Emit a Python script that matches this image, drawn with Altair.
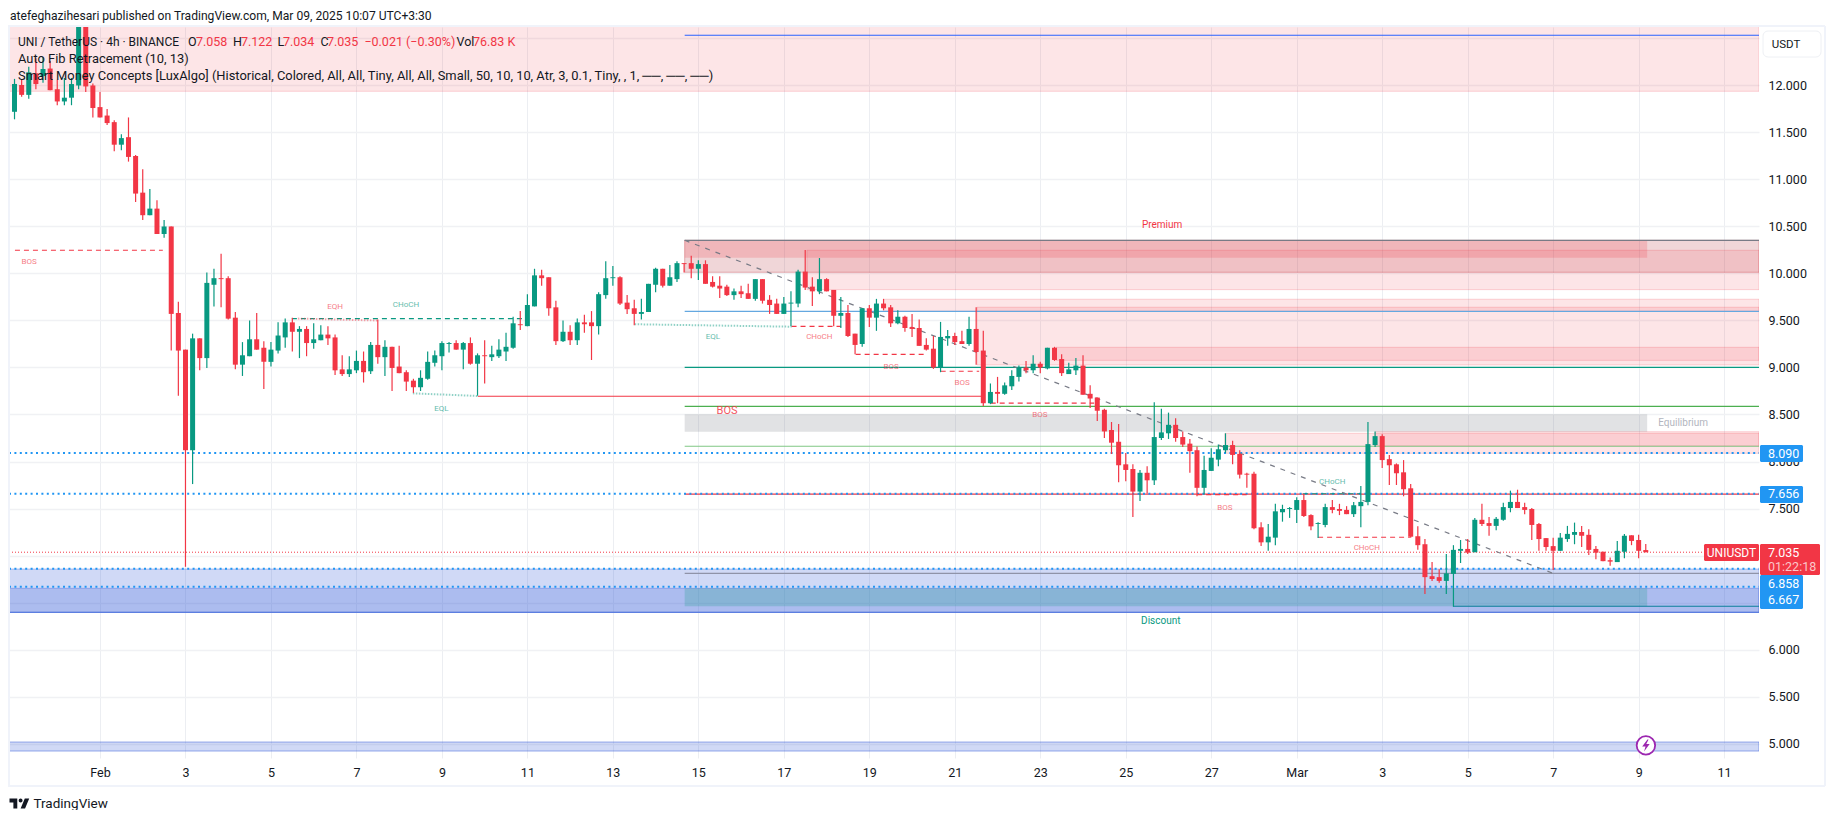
import json
import altair as alt
import pandas as pd

# ---- candle data (4h bars), prices ----
directions = ("GRGRGRRGGG" "RRRRRGRRRG" "RGRRRGRGGR" "RRGGRRGGGR"
              "GRGGRRRGGR" "GRGRRRRGGG" "GGRGRGRGGG" "GRGGRRRGRG"
              "RRGGGRRRGG" "GRGGRRGRRR" "RGRRGRRRGG" "GRRGRRGRRG"
              "RGRRGRRRRR" "GGRRGRRGRG" "GGRGRGRRGG" "RRRRRRRRGR"
              "GGGRRRRGGG" "GRRRRRGGGG" "GRRGGRRRGG" "GGRRRRRRRR"
              "RGGGRGRRGG" "GRRRRRRGGG" "RRRRRGGRRR")
tops = [
    12.016,12.005,12.14,12.13,12.175,12.18,11.96,11.87,12.015,12.85,
    12.85,12.0,11.77,11.68,11.61,11.44,11.45,11.25,10.86,10.69,
    10.69,10.50,10.50,9.58,9.19,9.31,9.31,9.90,9.95,9.95,
    9.95,9.53,9.13,9.30,9.30,9.21,9.19,9.34,9.48,9.48,
    9.41,9.41,9.30,9.35,9.35,9.32,8.98,8.98,9.07,9.07,
    9.24,9.24,9.22,9.22,9.01,8.95,8.86,8.89,9.06,9.13,
    9.26,9.26,9.26,9.26,9.26,9.13,9.13,9.14,9.19,9.22,
    9.47,9.46,9.665,9.98,9.98,9.96,9.64,9.38,9.38,9.48,
    9.48,9.48,9.78,9.95,9.96,9.96,9.69,9.63,9.59,9.89,
    10.05,10.05,9.96,10.11,10.11,10.11,10.10,10.10,9.91,9.87,
    9.86,9.81,9.81,9.79,9.94,9.94,9.72,9.68,9.68,9.69,
    10.02,10.02,9.86,9.94,9.94,9.825,9.58,9.58,9.36,9.63,
    9.63,9.68,9.68,9.64,9.54,9.54,9.43,9.42,9.24,9.20,
    9.325,9.335,9.335,9.28,9.41,9.41,9.18,8.74,8.74,8.81,
    8.91,9.0,9.0,9.04,9.04,9.21,9.21,9.09,8.98,9.02,
    9.02,8.72,8.68,8.55,8.335,8.21,7.97,7.92,7.88,7.88,
    8.26,8.31,8.39,8.39,8.26,8.19,8.12,7.91,8.04,8.13,
    8.175,8.175,8.08,7.87,7.87,7.30,7.20,7.47,7.495,7.505,
    7.59,7.59,7.43,7.345,7.515,7.515,7.495,7.485,7.535,7.57,
    8.185,8.27,8.27,8.025,7.97,7.885,7.715,7.205,7.12,6.78,
    6.77,6.81,7.06,7.07,7.07,7.38,7.38,7.345,7.39,7.515,
    7.57,7.57,7.515,7.495,7.335,7.185,7.10,7.19,7.23,7.25,
    7.25,7.22,7.07,7.04,6.95,7.05,7.21,7.215,7.165,7.058,
]
bottoms = [
    11.72,11.90,11.90,12.015,12.10,11.95,11.83,11.83,11.87,12.0,
    11.99,11.76,11.66,11.60,11.37,11.37,11.24,10.85,10.62,10.62,
    10.42,10.42,9.57,9.18,8.12,8.12,9.10,9.10,9.88,9.94,
    9.52,9.03,9.03,9.12,9.19,9.06,9.06,9.18,9.32,9.38,
    9.38,9.26,9.26,9.29,9.31,8.97,8.93,8.93,8.97,8.95,
    8.96,9.11,9.11,8.995,8.94,8.85,8.79,8.79,8.88,9.05,
    9.12,9.25,9.19,9.19,9.04,9.04,9.12,9.11,9.12,9.17,
    9.21,9.45,9.44,9.65,9.95,9.63,9.28,9.28,9.29,9.29,
    9.46,9.44,9.44,9.77,9.95,9.68,9.62,9.57,9.57,9.59,
    9.88,9.87,9.87,9.94,10.10,10.05,10.05,9.89,9.86,9.84,
    9.77,9.77,9.78,9.73,9.73,9.71,9.665,9.57,9.57,9.68,
    9.68,9.85,9.81,9.81,9.81,9.55,9.55,9.335,9.24,9.25,
    9.53,9.53,9.63,9.47,9.47,9.42,9.41,9.23,9.19,9.0,
    9.0,9.31,9.27,9.25,9.25,9.165,8.62,8.62,8.72,8.72,
    8.80,8.90,8.97,8.97,9.0,8.99,9.08,8.94,8.93,8.97,
    8.71,8.67,8.54,8.32,8.20,7.96,7.91,7.68,7.68,7.80,
    7.80,8.25,8.30,8.25,8.18,8.11,7.72,7.72,7.90,8.02,
    8.12,8.07,7.86,7.86,7.29,7.14,7.14,7.19,7.46,7.495,
    7.485,7.42,7.31,7.335,7.325,7.485,7.475,7.44,7.44,7.525,
    7.57,8.175,8.015,7.96,7.875,7.705,7.20,7.11,6.77,6.75,
    6.73,6.73,6.805,7.05,7.03,7.035,7.335,7.315,7.315,7.38,
    7.505,7.505,7.485,7.325,7.175,7.09,7.05,7.05,7.175,7.22,
    7.21,7.06,7.03,6.94,6.935,6.93,7.04,7.155,7.05,7.035,
]
highs = [
    12.07,12.06,12.20,12.29,12.30,12.26,12.06,12.08,12.08,12.95,
    13.0,12.02,11.93,11.75,11.63,11.48,11.66,11.26,11.11,10.90,
    10.78,10.57,10.50,9.70,9.19,9.36,9.31,10.01,10.05,10.21,
    9.97,9.59,9.27,9.50,9.58,9.28,9.27,9.48,9.52,9.53,
    9.44,9.44,9.47,9.45,9.44,9.35,9.13,9.12,9.18,9.17,
    9.27,9.51,9.29,9.22,9.23,8.97,8.88,8.97,9.17,9.18,
    9.28,9.27,9.29,9.27,9.32,9.15,9.29,9.23,9.30,9.37,
    9.54,9.60,9.78,10.05,10.04,9.96,9.71,9.50,9.45,9.52,
    9.56,9.60,9.80,10.13,10.08,9.97,9.77,9.72,9.73,9.89,
    10.06,10.05,10.09,10.13,10.11,10.19,10.14,10.14,9.97,9.97,
    9.88,9.84,9.87,9.89,9.94,9.94,9.77,9.73,9.75,9.81,
    10.04,10.25,9.96,10.165,9.95,9.825,9.75,9.665,9.36,9.63,
    9.665,9.73,9.73,9.665,9.61,9.55,9.57,9.51,9.31,9.335,
    9.485,9.40,9.37,9.39,9.54,9.64,9.39,8.83,8.90,8.84,
    8.97,9.02,9.07,9.13,9.06,9.21,9.22,9.14,9.05,9.10,
    9.13,8.81,8.68,8.56,8.42,8.40,8.09,7.97,7.91,7.95,
    8.63,8.56,8.52,8.46,8.32,8.24,8.16,8.06,8.14,8.18,
    8.30,8.22,8.12,7.88,7.89,7.355,7.335,7.55,7.54,7.515,
    7.62,7.655,7.44,7.355,7.55,7.59,7.55,7.525,7.57,7.74,
    8.42,8.32,8.29,8.07,7.98,8.015,7.76,7.31,7.175,6.93,
    6.855,7.015,7.11,7.165,7.175,7.40,7.55,7.41,7.41,7.56,
    7.69,7.70,7.56,7.505,7.345,7.185,7.19,7.24,7.315,7.35,
    7.315,7.28,7.10,7.04,6.98,7.155,7.23,7.215,7.22,7.122,
]
lows = [
    11.64,11.88,11.86,11.96,12.03,11.95,11.79,11.79,11.79,11.96,
    11.93,11.66,11.66,11.58,11.30,11.31,11.19,10.76,10.57,10.62,
    10.42,10.38,9.18,8.70,6.88,7.76,8.97,8.995,9.65,9.64,
    9.51,8.98,8.91,9.12,9.19,8.77,9.01,9.15,9.21,9.17,
    9.10,9.12,9.20,9.29,9.24,8.92,8.91,8.90,8.94,8.84,
    8.93,9.04,8.91,8.75,8.94,8.75,8.73,8.75,8.87,9.01,
    8.97,9.16,9.19,8.98,9.03,8.70,8.83,9.07,9.10,9.07,
    9.20,9.40,9.44,9.65,9.87,9.55,9.24,9.27,9.24,9.24,
    9.37,9.08,9.35,9.73,9.87,9.665,9.57,9.45,9.51,9.59,
    9.80,9.85,9.87,9.91,10.01,9.95,9.93,9.89,9.85,9.74,
    9.76,9.72,9.74,9.73,9.71,9.68,9.57,9.57,9.57,9.44,
    9.64,9.825,9.655,9.78,9.81,9.44,9.42,9.325,9.14,9.22,
    9.43,9.39,9.61,9.43,9.46,9.38,9.325,9.23,9.18,8.985,
    8.95,9.23,9.24,9.25,9.23,9.03,8.59,8.61,8.62,8.71,
    8.76,8.85,8.94,8.94,8.94,8.98,9.07,8.91,8.93,8.92,
    8.71,8.57,8.43,8.25,8.08,7.78,7.79,7.41,7.58,7.66,
    7.75,8.23,8.24,8.21,8.155,7.88,7.63,7.65,7.90,7.95,
    8.09,7.97,7.82,7.72,7.28,7.10,7.05,7.11,7.36,7.40,
    7.345,7.41,7.27,7.185,7.30,7.45,7.43,7.44,7.41,7.30,
    7.535,8.155,7.93,7.75,7.75,7.63,7.19,7.06,6.59,6.73,
    6.71,6.59,6.455,6.92,7.015,7.035,7.315,7.21,7.27,7.37,
    7.46,7.505,7.44,7.165,7.05,7.05,6.845,7.05,7.145,7.12,
    7.09,7.005,6.96,6.94,6.89,6.93,6.97,7.11,6.97,7.034,
]

# ---- axis contents ----
x_days = list(range(0, 39, 2))
x_labels = ["Feb","3","5","7","9","11","13","15","17","19","21","23","25","27",
            "Mar","3","5","7","9","11"]
y_ticks = [5 + 0.5 * k for k in range(16)]

X_MIN, X_MAX = -2.129, 38.816
Y_MIN, Y_MAX = 4.846, 12.622
FIB_START = 13.68
BOX_END = 36.2

# ---- zones: day from, day to, price from, price to ----
pink_zones = [
    (X_MIN, X_MAX, 11.938, 12.8),
    (16.54, X_MAX, 9.828, 10.247),
    (18.33, X_MAX, 9.598, 9.726),
    (20.52, X_MAX, 9.027, 9.641),
    (22.37, X_MAX, 9.076, 9.215),
    (26.32, X_MAX, 8.087, 8.30),
    (29.84, X_MAX, 8.165, 8.317),
]
order_zone = [(FIB_START, X_MAX, 10.013, 10.353)]
premium = [(FIB_START, BOX_END, 10.168, 10.353)]
equilibrium = [(FIB_START, BOX_END, 8.317, 8.502)]
discount = [(FIB_START, BOX_END, 6.46, 6.651)]
blue_zones = [
    (X_MIN, X_MAX, 6.395, 6.856),
    (X_MIN, X_MAX, 6.395, 6.651),
    (X_MIN, X_MAX, 4.92, 5.016),
]

# ---- horizontal lines: day from, day to, price, colour ----
fib_lines = [
    (FIB_START, X_MAX, 12.534, "#2962ff", 1.2),
    (FIB_START, X_MAX, 10.353, "#787b86", 1.2),
    (FIB_START, X_MAX, 9.598, "#64a8e0", 1.2),
    (FIB_START, X_MAX, 9.002, "#089981", 1.2),
    (FIB_START, X_MAX, 8.587, "#4caf50", 1.2),
    (FIB_START, X_MAX, 8.162, "#81c784", 1.2),
    (FIB_START, X_MAX, 7.654, "#f23645", 1.2),
    (FIB_START, X_MAX, 6.811, "#8f93a8", 1.2),
    (31.66, X_MAX, 6.46, "#0b7f9a", 1.2),
    (X_MIN, X_MAX, 6.395, "#5c7ee0", 1.2),
    (8.84, 20.66, 8.694, "#f23645", 1.1),
]
dotted_levels = [8.09, 7.656, 6.858, 6.667]
last_close = 7.035
red_dashes = [
    (-1.99, 1.47, 10.247), (16.18, 17.34, 9.438), (17.68, 19.34, 9.14),
    (19.67, 20.57, 8.96), (20.84, 23.26, 8.62), (25.67, 26.83, 7.647),
    (28.50, 30.65, 7.194),
]
green_dashes = [(4.49, 9.97, 9.52), (28.15, 29.48, 7.657)]
eq_red = [(4.63, 6.50, 9.52, 9.50)]
eq_green = [(7.32, 8.84, 8.725, 8.697), (12.51, 16.18, 9.46, 9.434)]
fib_diagonal = [(13.68, 34.0, 10.353, 6.81)]

# ---- small labels: text, day, price ----
red_labels = [
    ("BOS", -1.66, 10.12), ("EQH", 5.50, 9.64), ("CHoCH", 16.83, 9.32),
    ("BOS", 18.51, 9.01), ("BOS", 20.17, 8.84), ("BOS", 21.99, 8.49),
    ("BOS", 26.32, 7.51), ("CHoCH", 29.64, 7.076),
]
green_labels = [
    ("CHoCH", 7.16, 9.66), ("EQL", 7.99, 8.56), ("EQL", 14.34, 9.32),
    ("CHoCH", 28.83, 7.785),
]

RED, GREEN, BLUE = "#f23645", "#089981", "#2196f3"
FONT = "Roboto"
INK = "#131722"

xscale = alt.Scale(domain=[X_MIN, X_MAX], nice=False, zero=False)
yscale = alt.Scale(domain=[Y_MIN, Y_MAX], nice=False, zero=False)
EX = alt.X("d0:Q", scale=xscale, title=None)
WHY = alt.Y("p0:Q", scale=yscale, title=None)


def tab(rows, cols):
    return pd.DataFrame(rows, columns=cols)


def zones(rows, fill, op, stroke=None, sop=0.2):
    kw = dict(fill=fill, fillOpacity=op, clip=True)
    kw.update(stroke=stroke or fill, strokeOpacity=sop, strokeWidth=1)
    return alt.Chart(tab(rows, ["d0", "d1", "p0", "p1"])).mark_rect(**kw).encode(
        x=EX, x2="d1:Q", y=WHY, y2="p1:Q")


def hline(d0, d1, p, color, width=1.0, dash=None, opacity=1.0):
    kw = dict(color=color, strokeWidth=width, opacity=opacity)
    if dash:
        kw["strokeDash"] = dash
    return alt.Chart(tab([(d0, d1, p)], ["d0", "d1", "p0"])).mark_rule(**kw).encode(
        x=EX, x2="d1:Q", y=WHY)


def slanted(rows, color, width, dash, opacity=1.0):
    long_rows = []
    for k, (d0, d1, p0, p1) in enumerate(rows):
        long_rows += [(k, d0, p0), (k, d1, p1)]
    return alt.Chart(tab(long_rows, ["k", "d0", "p0"])).mark_line(
        color=color, strokeWidth=width, strokeDash=dash, opacity=opacity
    ).encode(x=EX, y=WHY, detail="k:N")


def labels(rows, color, size=8, opacity=0.65, weight=400):
    return alt.Chart(tab(rows, ["t", "d0", "p0"])).mark_text(
        color=color, fontSize=size, font=FONT, opacity=opacity,
        align="center", baseline="middle", fontWeight=weight
    ).encode(x=EX, y=WHY, text="t:N")


ONE = {"values": [{}]}
PLOT_X, PLOT_Y = 9, 27


def chrome(text, px, py, color=INK, size=13, align="left", weight=400, font=FONT):
    return alt.Chart(ONE).mark_text(
        text=text, color=color, fontSize=size, align=align, baseline="middle",
        font=font, fontWeight=weight
    ).encode(x=alt.value(px - PLOT_X), y=alt.value(py - PLOT_Y))


def chrome_rule(x0, x1, y0, y1):
    return alt.Chart(ONE).mark_rule(color="#f0f3fa", strokeWidth=2).encode(
        x=alt.value(x0 - PLOT_X), x2=alt.value(x1 - PLOT_X),
        y=alt.value(y0 - PLOT_Y), y2=alt.value(y1 - PLOT_Y))


def badge(x0, x1, p_lo, p_hi, color):
    return alt.Chart(tab([(p_lo, p_hi)], ["p0", "p1"])).mark_rect(
        color=color, cornerRadius=1.5
    ).encode(x=alt.value(x0 - PLOT_X), x2=alt.value(x1 - PLOT_X), y=WHY, y2="p1:Q")


def badge_text(text, px, p, color="#ffffff", size=12.5, align="left"):
    return alt.Chart(tab([(p,)], ["p0"])).mark_text(
        text=text, color=color, fontSize=size, font=FONT, align=align, baseline="middle"
    ).encode(x=alt.value(px - PLOT_X), y=WHY)


# candles table
rows = []
for i, (dr, t, b, h, l) in enumerate(zip(directions, tops, bottoms, highs, lows)):
    d = -2 + i / 6
    rows.append(dict(d0=d, xa=d - 0.0585, xb=d + 0.0585, t=t, b=b, h=h, l=l,
                     col=GREEN if dr == "G" else RED))
candles = pd.DataFrame(rows)
colour = alt.Color("col:N", scale=None, legend=None)

# axes layer (invisible marks carrying the axes and the grid)
axes = alt.Chart(pd.DataFrame({"d0": x_days, "p0": [y_ticks[0]] * len(x_days)})).mark_point(
    opacity=0
).encode(
    x=alt.X("d0:Q", scale=xscale, title=None, axis=alt.Axis(
        values=x_days, labelExpr=json.dumps(x_labels) + "[datum.value/2]",
        grid=True, gridColor="#eceef2", gridWidth=1, tickSize=0, domain=False,
        labelFont=FONT, labelFontSize=12.5, labelColor=INK, labelPadding=8,
        labelFlush=False, labelOverlap=False)),
    y=alt.Y("p0:Q", scale=yscale, title=None, axis=alt.Axis(
        orient="right", values=y_ticks + [12.5],
        labelExpr="(datum.value > 12.2 || datum.value == 7 || datum.value == 6.5) ? '' : format(datum.value, '.3f')",
        grid=True, gridColor="#f0f1f4", gridWidth=1.5, tickSize=0, domain=False,
        labelFont=FONT, labelFontSize=12.5, labelColor=INK, labelPadding=9,
        labelOverlap=False)),
)

layers = [axes]
layers += [
    zones(order_zone, "#b4323c", 0.2, stroke="#c0303a", sop=0.35),
    zones(pink_zones, RED, 0.13),
    zones(blue_zones[:2], "#3a5fd9", 0.24, stroke="#3a5fd9", sop=0.35),
    zones(blue_zones[2:], "#3a5fd9", 0.24, stroke="#3a5fd9", sop=0.5),
    zones(premium, RED, 0.2, sop=0),
    zones(equilibrium, "#787b86", 0.22, sop=0),
    zones(discount, GREEN, 0.22, sop=0),
]
layers += [hline(a, b, p, c, w) for a, b, p, c, w in fib_lines]
layers += [hline(X_MIN, X_MAX, p, BLUE, 2, [2, 3.4]) for p in dotted_levels]
layers += [hline(X_MIN, 37.53, last_close, RED, 1, [1, 2])]
layers += [hline(a, b, p, RED, 1.2, [5, 4]) for a, b, p in red_dashes]
layers += [hline(a, b, p, GREEN, 1.2, [5, 4]) for a, b, p in green_dashes]
layers += [
    slanted(eq_red, RED, 2, [1.5, 1.5], 0.45),
    slanted(eq_green, GREEN, 2, [1.5, 1.5], 0.45),
    slanted(fib_diagonal, "#787b86", 1.2, [5, 6]),
]
layers += [
    alt.Chart(candles).mark_rule(strokeWidth=1.2, clip=True).encode(
        x=EX, y=alt.Y("l:Q", scale=yscale, title=None), y2="h:Q", color=colour),
    alt.Chart(candles).mark_rect(clip=True).encode(
        x=alt.X("xa:Q", scale=xscale, title=None), x2="xb:Q",
        y=alt.Y("b:Q", scale=yscale, title=None), y2="t:Q", color=colour),
]
layers += [
    labels(red_labels, RED),
    labels(green_labels, GREEN),
    labels([("BOS", 14.67, 8.534)], RED, size=11, opacity=0.85),
    labels([("Premium", 24.85, 10.52)], RED, size=10, opacity=1),
    labels([("Discount", 24.82, 6.307)], GREEN, size=10, opacity=1),
    labels([("Equilibrium", 37.04, 8.41)], "#b2b5be", size=10, opacity=1),
]

# bolt marker
layers += [
    alt.Chart(tab([(36.17, 4.98)], ["d0", "p0"])).mark_point(
        shape="circle", size=340, fill="#ffffff", fillOpacity=1, stroke="#9c27b0",
        strokeWidth=1.8, opacity=1).encode(x=EX, y=WHY),
    alt.Chart(tab([(36.17, 4.98)], ["d0", "p0"])).mark_point(
        shape="M0.2 -0.8L-0.5 0.15L-0.05 0.15L-0.25 0.8L0.5 -0.2L0.05 -0.2L0.35 -0.8Z",
        size=225, filled=True, fill="#9c27b0", opacity=1).encode(x=EX, y=WHY),
]

# frame
layers += [
    chrome_rule(8, 1825, 26, 26), chrome_rule(8, 1825, 786, 786),
    chrome_rule(9, 9, 26, 786), chrome_rule(1825, 1825, 26, 786),
]

# price badges
layers += [
    badge(1760, 1803, 7.995, 8.176, BLUE), badge_text("8.090", 1768, 8.083),
    badge(1760, 1803, 7.559, 7.739, BLUE), badge_text("7.656", 1768, 7.651),
    badge(1704, 1759, 6.942, 7.122, RED), badge_text("UNIUSDT", 1731.5, 7.03, align="center", size=12),
    badge(1760, 1820, 6.793, 7.122, RED), badge_text("7.035", 1768, 7.03),
    badge_text("01:22:18", 1768, 6.88, color="#fbc7cb"),
    badge(1760, 1803, 6.431, 6.793, BLUE), badge_text("6.858", 1768, 6.70),
    badge_text("6.667", 1768, 6.523),
]

# USDT button
layers += [
    alt.Chart(ONE).mark_rect(fill="#ffffff", stroke="#eef0f4", cornerRadius=5, strokeWidth=1).encode(
        x=alt.value(1763 - PLOT_X), x2=alt.value(1821 - PLOT_X),
        y=alt.value(31 - PLOT_Y), y2=alt.value(57 - PLOT_Y)),
    chrome("USDT", 1786, 45, size=11.5, align="center"),
]

# header, legend, footer
layers += [
    chrome("atefeghazihesari published on TradingView.com, Mar 09, 2025 10:07 UTC+3:30", 10, 15.5, size=12.1),
    chrome("UNI / TetherUS · 4h · BINANCE", 18, 42, size=12),
    chrome("O", 188, 42, size=12.5), chrome("7.058", 196, 42, RED, size=12.5),
    chrome("H", 233, 42, size=12.5), chrome("7.122", 241, 42, RED, size=12.5),
    chrome("L", 277.5, 42, size=12.5), chrome("7.034", 283, 42, RED, size=12.5),
    chrome("C", 320.5, 42, size=12.5), chrome("7.035", 327, 42, RED, size=12.5),
    chrome("−0.021 (−0.30%)", 364.4, 42, RED, size=12.5),
    chrome("Vol", 456.5, 42, size=12.5), chrome("76.83 K", 473, 42, RED, size=12.5),
    chrome("Auto Fib Retracement (10, 13)", 18, 59, size=12.9),
    chrome("Smart Money Concepts [LuxAlgo] (Historical, Colored, All, All, Tiny, All, All, Small, "
           "50, 10, 10, Atr, 3, 0.1, Tiny, , 1, ──, ──, ──)", 18, 76, size=12.9),
    chrome("TradingView", 33.5, 803.7, size=13.5),
    alt.Chart(ONE).mark_point(
        shape="M-0.222 0.5H-0.611V-0.111H-1V-0.5H-0.222ZM0.556 0.5H0.111L0.528 -0.5H0.972ZM0.306 -0.305A0.195 0.195 0 1 1 -0.084 -0.305A0.195 0.195 0 1 1 0.306 -0.305Z",
        size=400, filled=True, fill=INK, opacity=1
    ).encode(x=alt.value(19.5 - PLOT_X), y=alt.value(803.5 - PLOT_Y)),
]

chart = alt.layer(*layers).properties(
    width=1750, height=731,
    padding={"left": 1, "top": 19, "right": 68, "bottom": 52},
    autosize=alt.AutoSizeParams(type="none"),
    background="#ffffff",
).configure_view(stroke=None)

chart.save("out.html", embed_options={"renderer": "svg", "actions": False})
